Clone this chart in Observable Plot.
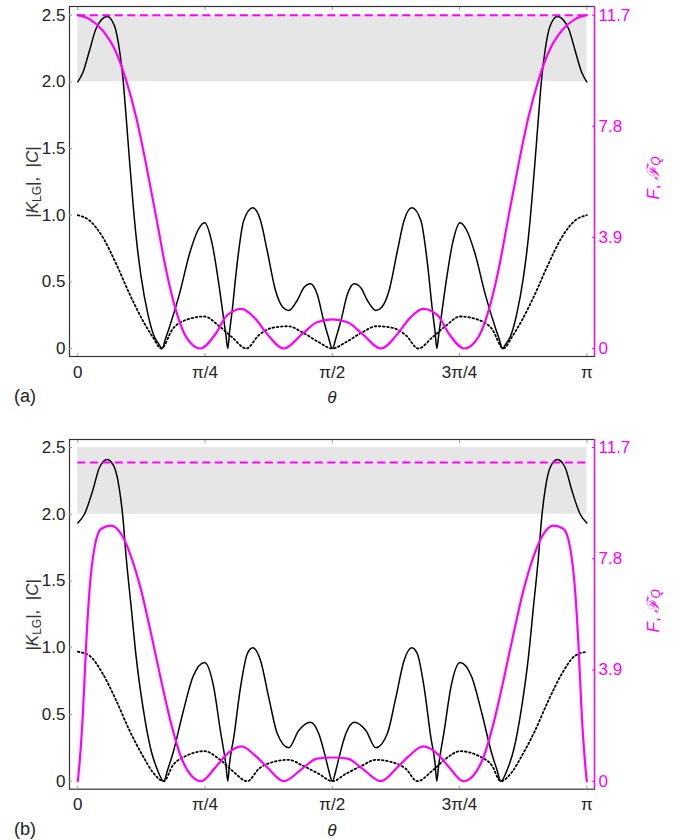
<!DOCTYPE html>
<html><head><meta charset="utf-8">
<script src="https://cdn.jsdelivr.net/npm/d3@7"></script>
<script src="https://cdn.jsdelivr.net/npm/@observablehq/plot@0.6"></script>
<style>
body{margin:0;background:#fff;}
#fig{width:697px;height:840px;position:relative;}
#fig svg{display:block;}
</style></head><body><div id="fig"></div>
<script>
// ---------- axis / tick data ----------
const xTickValues = [0, 0.25, 0.5, 0.75, 1];          // θ in units of π
const xTickLabels = ["0", "π/4", "π/2", "3π/4", "π"];
const yTickValues = [0, 0.5, 1, 1.5, 2, 2.5];
const yTickLabels = ["0", "0.5", "1.0", "1.5", "2.0", "2.5"];
const fTickValues = [0, 3.9, 7.8, 11.7];
const fTickLabels = ["0", "3.9", "7.8", "11.7"];
const leftMax = 2.5, rightMax = 11.7;
const bandLow = 2.0, bandHigh = 2.5;
const fqA = 11.7, fqB = 11.17;

// ---------- panel (a) ----------
const thetaKa = [0, 0.010, 0.023, 0.036, 0.0577, 0.072, 0.082, 0.0885, 0.095, 0.1016, 0.108, 0.1147, 0.1245, 0.1376, 0.1507, 0.158, 0.1658, 0.172, 0.180, 0.1998, 0.2195, 0.2358, 0.249, 0.264, 0.277, 0.287, 0.291, 0.2947, 0.298, 0.3033, 0.313, 0.326, 0.3438, 0.359, 0.372, 0.3884, 0.4028, 0.4145, 0.431, 0.444, 0.457, 0.470, 0.483, 0.492, 0.5,
  0.508, 0.517, 0.530, 0.543, 0.556, 0.569, 0.5855, 0.5972, 0.6116, 0.628, 0.641, 0.6562, 0.674, 0.687, 0.6967, 0.702, 0.7053, 0.709, 0.713, 0.723, 0.736, 0.751, 0.7642, 0.7805, 0.8002, 0.820, 0.828, 0.8342, 0.842, 0.8493, 0.8624, 0.8755, 0.8853, 0.892, 0.8984, 0.905, 0.9115, 0.918, 0.928, 0.9423, 0.964, 0.977, 0.990, 1];
const Ka = [2.0, 2.07, 2.235, 2.40, 2.49, 2.42, 2.235, 2.035, 1.735, 1.41, 1.11, 0.835, 0.535, 0.26, 0.085, 0.04, 0.0, 0.07, 0.16, 0.41, 0.71, 0.885, 0.943, 0.785, 0.485, 0.21, 0.10, 0.0, 0.12, 0.285, 0.635, 0.96, 1.055, 0.96, 0.735, 0.435, 0.31, 0.285, 0.36, 0.455, 0.485, 0.41, 0.21, 0.09, 0.0,
  0.09, 0.21, 0.41, 0.485, 0.455, 0.36, 0.285, 0.31, 0.435, 0.735, 0.96, 1.055, 0.96, 0.635, 0.285, 0.12, 0.0, 0.10, 0.21, 0.485, 0.785, 0.943, 0.885, 0.71, 0.41, 0.16, 0.07, 0.0, 0.04, 0.085, 0.26, 0.535, 0.835, 1.11, 1.41, 1.735, 2.035, 2.235, 2.42, 2.49, 2.40, 2.235, 2.07, 2.0];

const thetaCa = [0, 0.023, 0.049, 0.0754, 0.1016, 0.1277, 0.1474, 0.1638, 0.1866, 0.213, 0.249, 0.277, 0.303, 0.331, 0.3557, 0.382, 0.413, 0.441, 0.4735, 0.5,
  0.5265, 0.559, 0.587, 0.618, 0.6443, 0.669, 0.697, 0.723, 0.751, 0.787, 0.8134, 0.8362, 0.8526, 0.8723, 0.8984, 0.9246, 0.951, 0.977, 1];
const Ca = [1.0, 0.96, 0.835, 0.635, 0.41, 0.21, 0.085, 0.0, 0.148, 0.215, 0.24, 0.17, 0.085, 0.0, 0.1, 0.155, 0.167, 0.122, 0.047, 0.0,
  0.047, 0.122, 0.167, 0.155, 0.1, 0.0, 0.085, 0.17, 0.24, 0.215, 0.148, 0.0, 0.085, 0.21, 0.41, 0.635, 0.835, 0.96, 1.0];

const thetaFa = [0, 0.023, 0.049, 0.0754, 0.095, 0.1147, 0.134, 0.154, 0.1737, 0.193, 0.213, 0.241, 0.2705, 0.2935, 0.3216, 0.349, 0.372, 0.4047, 0.441, 0.470, 0.5,
  0.530, 0.559, 0.5953, 0.628, 0.651, 0.6784, 0.7065, 0.7295, 0.759, 0.787, 0.807, 0.8263, 0.846, 0.866, 0.8853, 0.905, 0.9246, 0.951, 0.977, 1];
const Fa = [11.7, 11.56, 11.16, 10.39, 9.41, 8.12, 6.48, 4.61, 2.74, 1.33, 0.40, 0, 0.51, 1.17, 1.39, 1.04, 0.51, 0, 0.51, 0.92, 1.02,
  0.92, 0.51, 0, 0.51, 1.04, 1.39, 1.17, 0.51, 0, 0.40, 1.33, 2.74, 4.61, 6.48, 8.12, 9.41, 10.39, 11.16, 11.56, 11.7];

// ---------- panel (b) ----------
const thetaKb = [0, 0.013, 0.0295, 0.0426, 0.0577, 0.072, 0.082, 0.0885, 0.095, 0.105, 0.1147, 0.128, 0.144, 0.156, 0.169, 0.176, 0.1866, 0.206, 0.226, 0.249, 0.267, 0.280, 0.291, 0.2947, 0.298, 0.3065, 0.3197, 0.333, 0.3438, 0.359, 0.375, 0.392, 0.4145, 0.434, 0.457, 0.4735, 0.4866, 0.493, 0.5,
  0.507, 0.5134, 0.5265, 0.543, 0.566, 0.5855, 0.608, 0.625, 0.641, 0.6562, 0.667, 0.6803, 0.6935, 0.702, 0.7053, 0.709, 0.720, 0.733, 0.751, 0.774, 0.794, 0.8134, 0.824, 0.831, 0.844, 0.856, 0.872, 0.8853, 0.895, 0.905, 0.9115, 0.918, 0.928, 0.9423, 0.9574, 0.9705, 0.987, 1];
const Kb = [1.935, 2.0, 2.18, 2.35, 2.41, 2.35, 2.18, 1.98, 1.68, 1.30, 0.93, 0.555, 0.23, 0.09, 0.0, 0.08, 0.205, 0.505, 0.78, 0.89, 0.705, 0.38, 0.12, 0.0, 0.13, 0.33, 0.705, 0.955, 1.0, 0.905, 0.63, 0.355, 0.25, 0.38, 0.442, 0.355, 0.18, 0.08, 0.0,
  0.08, 0.18, 0.355, 0.442, 0.38, 0.25, 0.355, 0.63, 0.905, 1.0, 0.955, 0.705, 0.33, 0.13, 0.0, 0.12, 0.38, 0.705, 0.89, 0.78, 0.505, 0.205, 0.08, 0.0, 0.09, 0.23, 0.555, 0.93, 1.30, 1.68, 1.98, 2.18, 2.35, 2.41, 2.35, 2.18, 2.0, 1.935];

const thetaCb = [0, 0.023, 0.049, 0.0754, 0.1016, 0.1277, 0.1474, 0.169, 0.1866, 0.213, 0.249, 0.277, 0.303, 0.333, 0.3557, 0.382, 0.4145, 0.441, 0.4735, 0.5,
  0.5265, 0.559, 0.5855, 0.618, 0.6443, 0.667, 0.697, 0.723, 0.751, 0.787, 0.8134, 0.831, 0.8526, 0.8723, 0.8984, 0.9246, 0.951, 0.977, 1];
const Cb = [0.97, 0.94, 0.805, 0.605, 0.38, 0.19, 0.067, 0, 0.118, 0.19, 0.225, 0.168, 0.08, 0, 0.093, 0.142, 0.16, 0.118, 0.055, 0,
  0.055, 0.118, 0.16, 0.142, 0.093, 0, 0.08, 0.168, 0.225, 0.19, 0.118, 0, 0.067, 0.19, 0.38, 0.605, 0.805, 0.94, 0.97];

const thetaFb = [0, 0.0033, 0.01, 0.0165, 0.023, 0.0328, 0.046, 0.0656, 0.0853, 0.105, 0.1245, 0.144, 0.1638, 0.1835, 0.203, 0.2228, 0.2424, 0.2705, 0.2935, 0.3216, 0.349, 0.372, 0.4047, 0.441, 0.470, 0.5,
  0.530, 0.559, 0.5953, 0.628, 0.651, 0.6784, 0.7065, 0.7295, 0.7576, 0.7772, 0.797, 0.8165, 0.8362, 0.856, 0.8755, 0.895, 0.9147, 0.9344, 0.954, 0.9672, 0.977, 0.9835, 0.990, 0.9967, 1];
const Fb = [0, 0.61, 2.36, 4.82, 6.69, 8.19, 8.85, 8.96, 8.66, 7.86, 6.69, 5.17, 3.53, 2.01, 0.84, 0.20, 0, 0.49, 0.96, 1.22, 0.89, 0.49, 0, 0.44, 0.79, 0.83,
  0.79, 0.44, 0, 0.49, 0.89, 1.22, 0.96, 0.49, 0, 0.20, 0.84, 2.01, 3.53, 5.17, 6.69, 7.86, 8.66, 8.96, 8.85, 8.19, 6.69, 4.82, 2.36, 0.61, 0];

// ---------- drawing ----------
const magenta = "#ff00ff";
const FONT = "'Liberation Sans', Arial, Helvetica, sans-serif";
const zip = (t, v) => t.map((x, i) => ({t: x, v: v[i]}));
const toLeft = f => f * leftMax / rightMax;
const xDomain = [-0.0163, 1.0151];

function panel({K, C, F, fq, tag, marginTop, marginBottom, yDomain}) {
  const W = 697, H = 420, mL = 69, mR = 103;
  const plot = Plot.plot({
    width: W, height: H, marginLeft: mL, marginRight: mR, marginTop, marginBottom,
    x: {domain: xDomain},
    y: {domain: yDomain},
    style: {fontFamily: FONT, fontSize: "17px", color: "#222", background: "#fff", overflow: "visible"},
    marks: [
      Plot.rect([{a: 0, b: 1, lo: bandLow, hi: bandHigh}], {x1: "a", x2: "b", y1: "lo", y2: "hi", fill: "#e6e6e6"}),
      Plot.line(C, {x: "t", y: "v", stroke: "#000", strokeWidth: 1.8, strokeDasharray: "1.6,2.6", curve: "monotone-x"}),
      Plot.line(K, {x: "t", y: "v", stroke: "#000", strokeWidth: 1.5, curve: "monotone-x"}),
      Plot.line(F, {x: "t", y: d => toLeft(d.v), stroke: magenta, strokeWidth: 2.2, curve: "monotone-x"}),
      Plot.ruleY([fq], {y: d => toLeft(d), x1: 0, x2: 1, stroke: magenta, strokeWidth: 2, strokeDasharray: "8,4.5"}),
      Plot.frame({stroke: "#333", strokeWidth: 1.2}),
      Plot.ruleX([xDomain[1]], {stroke: magenta, strokeWidth: 1.3}),
      Plot.axisX({anchor: "bottom", ticks: xTickValues, tickSize: -3, tickPadding: 12,
        tickFormat: d => xTickLabels[xTickValues.indexOf(d)], label: null, stroke: "#999", fill: "#222"}),
      Plot.axisX({anchor: "top", ticks: xTickValues, tickSize: -3, tickFormat: () => "", label: null, stroke: "#999"}),
      Plot.axisY({anchor: "left", ticks: yTickValues, tickSize: -3, tickPadding: 7,
        tickFormat: d => yTickLabels[yTickValues.indexOf(d)], label: null, stroke: "#999", fill: "#222"}),
      Plot.axisY({anchor: "right", ticks: fTickValues.map(toLeft), tickSize: -3, tickPadding: 7,
        tickFormat: (d, i) => fTickLabels[i], label: null, stroke: magenta, fill: magenta})
    ]
  });
  const svg = d3.select(plot);
  const x = plot.scale("x"), y = plot.scale("y");
  const yMid = (y.apply(yDomain[0]) + y.apply(yDomain[1])) / 2;
  // left axis label
  const tl = svg.append("text").attr("transform", `translate(38,${yMid + 1}) rotate(-90)`)
    .attr("text-anchor", "middle").attr("fill", "#333").style("font-family", FONT).style("font-size", "17px");
  tl.append("tspan").text("|");
  tl.append("tspan").attr("font-style", "italic").text("K");
  tl.append("tspan").attr("baseline-shift", "-25%").attr("font-size", "12px").text("LG");
  tl.append("tspan").text("|,  |").attr("xml:space", "preserve");
  tl.append("tspan").attr("font-style", "italic").text("C");
  tl.append("tspan").text("|");
  // right axis label
  const tr = svg.append("text").attr("transform", `translate(659,${yMid - 3}) rotate(-90)`)
    .attr("text-anchor", "middle").attr("fill", magenta).style("font-family", FONT).style("font-size", "17px");
  tr.append("tspan").attr("font-style", "italic").text("F");
  tr.append("tspan").text(", ");
  tr.append("tspan").attr("font-style", "italic").text("ℱ");
  tr.append("tspan").attr("baseline-shift", "-10%").attr("font-size", "12px").attr("font-style", "italic").text("Q");
  // x label and panel tag
  const xb = H - marginBottom;
  svg.append("text").attr("x", x.apply(0.5)).attr("y", xb + 47).attr("text-anchor", "middle")
    .attr("font-style", "italic").attr("fill", "#222").style("font-family", FONT).style("font-size", "17px").text("θ");
  svg.append("text").attr("x", 14).attr("y", xb + 46).attr("text-anchor", "start").attr("fill", "#222")
    .style("font-family", FONT).style("font-size", "18px").text(tag);
  return plot;
}

const fig = document.getElementById("fig");
fig.appendChild(panel({K: zip(thetaKa, Ka), C: zip(thetaCa, Ca), F: zip(thetaFa, Fa), fq: fqA, tag: "(a)",
  marginTop: 6, marginBottom: 64, yDomain: [-0.06, 2.565]}));
fig.appendChild(panel({K: zip(thetaKb, Kb), C: zip(thetaCb, Cb), F: zip(thetaFb, Fb), fq: fqB, tag: "(b)",
  marginTop: 19, marginBottom: 51.3, yDomain: [-0.06, 2.56]}));
</script>
</body></html>
